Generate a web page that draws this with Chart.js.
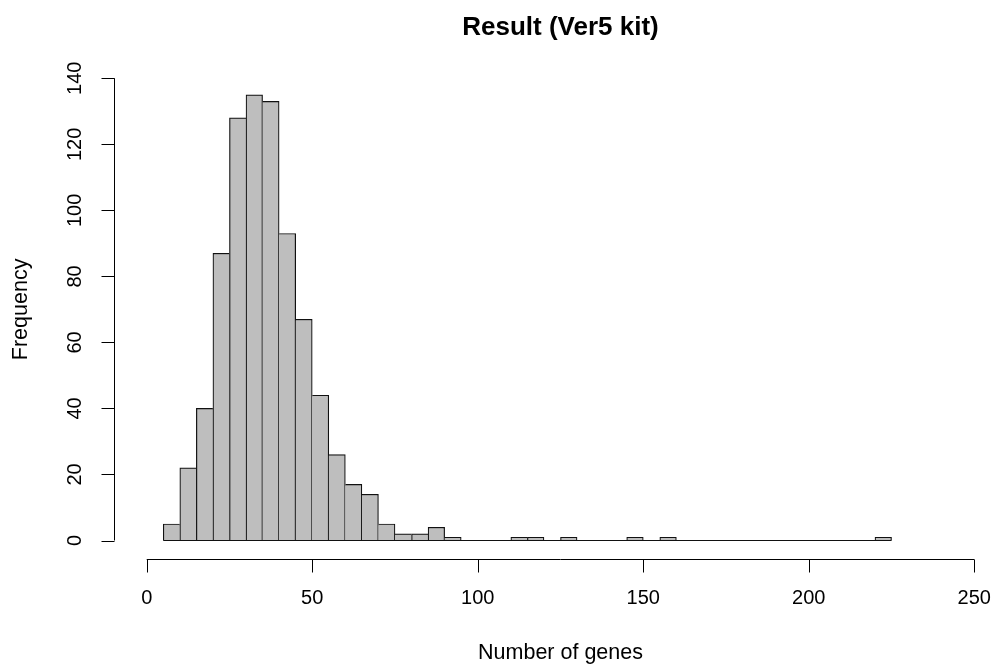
<!DOCTYPE html>
<html>
<head>
<meta charset="utf-8">
<script src="https://cdn.jsdelivr.net/npm/chart.js@4/dist/chart.umd.min.js"></script>
<style>
  html, body { margin: 0; padding: 0; background: #fff; overflow: hidden; }
  canvas { display: block; }
</style>
</head>
<body>
<canvas id="histChart" width="1040" height="670"></canvas>
<script>
// bin start values (width 5) and counts per bin
const binStarts = [5, 10, 15, 20, 25, 30, 35, 40, 45, 50, 55, 60, 65, 70, 75, 80, 85, 90,
  95, 100, 105, 110, 115, 120, 125, 130, 135, 140, 145, 150, 155, 160, 165, 170, 175,
  180, 185, 190, 195, 200, 205, 210, 215, 220];
const counts = [5, 22, 40, 87, 128, 135, 133, 93, 67, 44, 26, 17, 14, 5, 2, 2, 4, 1,
  0, 0, 0, 1, 1, 0, 1, 0, 0, 0, 1, 0, 1, 0, 0, 0, 0,
  0, 0, 0, 0, 0, 0, 0, 0, 1];
const binWidth = 5;
const xTicks = [0, 50, 100, 150, 200, 250];
const yTicks = [0, 20, 40, 60, 80, 100, 120, 140];

const FONT = '"Liberation Sans", Arial, sans-serif';

// R style axes: detached lines with outward ticks
const rAxes = {
  id: 'rAxes',
  afterDraw(chart) {
    const { ctx, chartArea, scales: { x, y } } = chart;
    ctx.save();
    ctx.strokeStyle = '#000';
    ctx.fillStyle = '#000';
    ctx.lineWidth = 1;

    // x axis
    const xb = Math.round(chartArea.bottom) + 0.5;
    ctx.beginPath();
    ctx.moveTo(x.getPixelForValue(xTicks[0]), xb);
    ctx.lineTo(x.getPixelForValue(xTicks[xTicks.length - 1]), xb);
    xTicks.forEach(t => {
      const px = Math.round(x.getPixelForValue(t)) + 0.5;
      ctx.moveTo(px, xb);
      ctx.lineTo(px, xb + 13);
    });
    ctx.stroke();
    ctx.font = '20px ' + FONT;
    ctx.textAlign = 'center';
    ctx.textBaseline = 'middle';
    xTicks.forEach(t => ctx.fillText(String(t), x.getPixelForValue(t), xb + 39));
    ctx.font = '21.5px ' + FONT;
    ctx.fillText('Number of genes', (chartArea.left + chartArea.right) / 2, xb + 94);

    // y axis
    const yl = Math.round(chartArea.left) + 0.5;
    ctx.beginPath();
    ctx.moveTo(yl, y.getPixelForValue(yTicks[0]));
    ctx.lineTo(yl, y.getPixelForValue(yTicks[yTicks.length - 1]));
    yTicks.forEach(t => {
      const py = Math.round(y.getPixelForValue(t)) + 0.5;
      ctx.moveTo(yl, py);
      ctx.lineTo(yl - 13, py);
    });
    ctx.stroke();
    ctx.font = '20px ' + FONT;
    yTicks.forEach(t => {
      ctx.save();
      ctx.translate(yl - 39, y.getPixelForValue(t));
      ctx.rotate(-Math.PI / 2);
      ctx.fillText(String(t), 0, 0);
      ctx.restore();
    });
    ctx.save();
    ctx.font = '21.5px ' + FONT;
    ctx.translate(yl - 93, (chartArea.top + chartArea.bottom) / 2);
    ctx.rotate(-Math.PI / 2);
    ctx.fillText('Frequency', 0, 0);
    ctx.restore();

    ctx.restore();
  }
};

function edgeWidths(ctx) {
  const i = ctx.dataIndex;
  const v = counts[i];
  if (!v) return 0;
  const prev = i > 0 ? counts[i - 1] : 0;
  const next = i < counts.length - 1 ? counts[i + 1] : 0;
  return { left: v >= prev ? 1.2 : 0, right: v > next ? 1.2 : 0, top: 1.2, bottom: 0 };
}

new Chart(document.getElementById('histChart'), {
  type: 'bar',
  data: {
    datasets: [
      {
        type: 'line',
        data: [
          { x: binStarts[0], y: 0 },
          { x: binStarts[binStarts.length - 1] + binWidth, y: 0 }
        ],
        borderColor: '#111',
        borderWidth: 1.2,
        pointRadius: 0,
        order: 0
      },
      {
        type: 'bar',
        data: binStarts.map((s, i) => ({ x: s + binWidth / 2, y: counts[i] })),
        backgroundColor: '#bebebe',
        borderColor: '#111',
        borderWidth: edgeWidths,
        borderSkipped: false,
        barPercentage: 1,
        categoryPercentage: 1,
        order: 1
      }
    ]
  },
  plugins: [rAxes],
  options: {
    responsive: false,
    animation: false,
    layout: { padding: { left: 113.6, right: 32.6, top: 0, bottom: 111 } },
    scales: {
      x: { type: 'linear', min: -10, max: 260, offset: false, display: false },
      y: { type: 'linear', min: -5.6, max: 145.6, display: false }
    },
    plugins: {
      legend: { display: false },
      tooltip: { enabled: false },
      title: {
        display: true,
        text: 'Result (Ver5 kit)',
        color: '#000',
        font: { family: FONT, size: 26, weight: 'bold', lineHeight: 1.2 },
        padding: { top: 12.4, bottom: 16.2 }
      }
    }
  }
});
</script>
</body>
</html>
